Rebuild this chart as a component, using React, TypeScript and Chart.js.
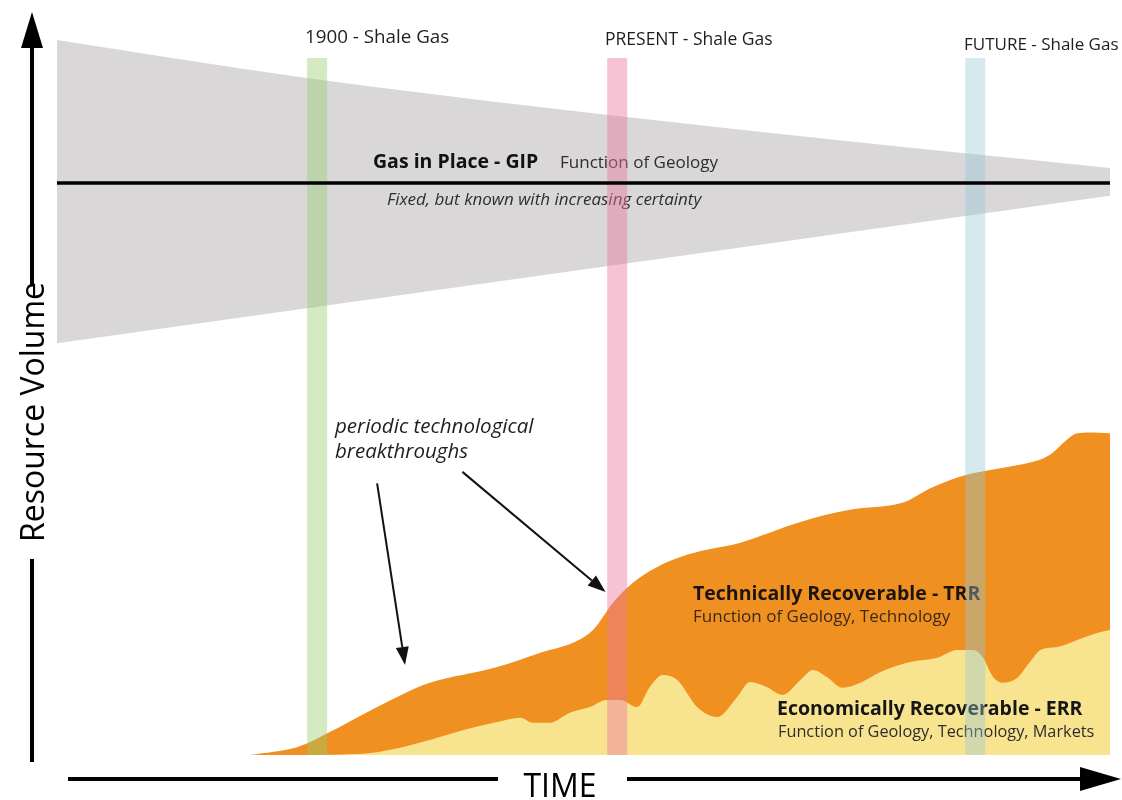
import React, { useEffect, useRef } from "react";
import { Chart, registerables } from "chart.js";

Chart.register(...registerables);

// ---- Data (time 0..100, resource volume 0..100, conceptual units) ----
const gipUpperX = [0, 23.7, 69.6, 100];
const gipUpperY = [100, 94.7, 86.7, 82.1];
const gipLowerX = [0, 100];
const gipLowerY = [57.6, 78.2];
const gipLineX = [0, 100];
const gipLineY = [80, 80];

const trrX = [18.3, 22.8, 25.9, 29.1, 32.3, 35.4, 41.8, 45.9, 49.0, 50.9, 52.8, 54.7, 57.0, 59.2, 61.7, 64.9, 70.6, 75.3, 80.1, 83.2, 86.4, 89.6, 92.7, 94.3, 95.9, 96.9, 100];
const trrY = [0, 1.1, 3.2, 5.7, 8.1, 10.1, 12.3, 14.3, 15.7, 17.5, 21.3, 24.1, 26.3, 27.7, 28.7, 29.7, 32.6, 34.3, 35.2, 37.5, 39.2, 40.1, 41.0, 42.0, 44.1, 45.0, 45.0];

const errX = [25.0, 30.4, 35.4, 38.6, 41.8, 44.0, 45.2, 46.8, 48.7, 50.6, 52.2, 53.5, 55.1, 56.3, 57.5, 58.9, 60.8, 62.7, 64.6, 65.8, 67.4, 68.9, 70.6, 71.8, 73.1, 74.6, 76.3, 78.2, 81.0, 83.6, 85.5, 87.0, 87.9, 88.9, 89.8, 91.2, 92.4, 93.4, 95.0, 96.9, 99.1, 100];
const errY = [0, 0.4, 2.1, 3.5, 4.6, 5.2, 4.5, 4.5, 5.9, 6.7, 7.7, 7.7, 6.7, 9.5, 11.2, 10.5, 6.7, 5.3, 8.1, 10.2, 9.5, 8.4, 10.5, 11.9, 10.9, 9.4, 10.1, 11.6, 13.0, 13.6, 14.7, 14.7, 13.7, 10.9, 10.1, 10.8, 13.0, 14.7, 15.1, 16.1, 17.2, 17.5];

const bandLabels = ["1900 - Shale Gas", "PRESENT - Shale Gas", "FUTURE - Shale Gas"];
const bandX = [24.7, 53.2, 87.2];
const bandTop = [97.5, 97.5, 97.5];
const bandColors = ["rgba(150,205,110,0.42)", "rgba(235,120,160,0.45)", "rgba(150,200,215,0.40)"];

// annotation arrows in data units
const arrowStartX = [30.4, 38.5];
const arrowStartY = [38.0, 39.6];
const arrowEndX = [33.05, 52.1];
const arrowEndY = [12.6, 22.8];

const pts = (xs: number[], ys: number[]) => xs.map((x, i) => ({ x, y: ys[i] }));

const FONT = '"Open Sans", "Noto Sans", sans-serif';

function txt(ctx: CanvasRenderingContext2D, s: string, x: number, y: number, font: string, color: string, align: CanvasTextAlign = "left") {
  ctx.font = font;
  ctx.fillStyle = color;
  ctx.textAlign = align;
  ctx.textBaseline = "alphabetic";
  ctx.fillText(s, x, y);
}

function drawLabels(chart: any) {
  const ctx: CanvasRenderingContext2D = chart.ctx;
  ctx.save();
  const bandTitleY = [43, 45, 50];
  const bandTitleX = [305, 605, 964];
  const bandTitleSize = [18.8, 17.5, 17];
  bandLabels.forEach((s, i) => txt(ctx, s, bandTitleX[i], bandTitleY[i], `${bandTitleSize[i]}px ${FONT}`, "#1e1e1e"));
  txt(ctx, "Gas in Place - GIP", 373, 168, `bold 19.5px ${FONT}`, "#111");
  txt(ctx, "Function of Geology", 560, 168, `17px ${FONT}`, "#2e2e2e");
  txt(ctx, "Fixed, but known with increasing certainty", 387, 205, `italic 17px ${FONT}`, "#2e2e2e");
  txt(ctx, "periodic technological", 335, 433, `italic 20.5px ${FONT}`, "#1e1e1e");
  txt(ctx, "breakthroughs", 335, 458, `italic 20.5px ${FONT}`, "#1e1e1e");
  txt(ctx, "Technically Recoverable - TRR", 693, 600, `bold 19.5px ${FONT}`, "#1c140e");
  txt(ctx, "Function of Geology, Technology", 693, 622, `17px ${FONT}`, "#3b2a1c");
  txt(ctx, "Economically Recoverable - ERR", 777, 715, `bold 19.5px ${FONT}`, "#161616");
  txt(ctx, "Function of Geology, Technology, Markets", 778, 737, `16.3px ${FONT}`, "#2e2e2e");
  ctx.restore();
}

function drawDecor(chart: any) {
  const ctx: CanvasRenderingContext2D = chart.ctx;
  const xs = chart.scales.x;
  const ys = chart.scales.y;
  ctx.save();
  ctx.strokeStyle = "#111";
  ctx.fillStyle = "#111";
  ctx.lineWidth = 2;
  for (let i = 0; i < arrowStartX.length; i++) {
    const x0 = xs.getPixelForValue(arrowStartX[i]);
    const y0 = ys.getPixelForValue(arrowStartY[i]);
    const x1 = xs.getPixelForValue(arrowEndX[i]);
    const y1 = ys.getPixelForValue(arrowEndY[i]);
    const a = Math.atan2(y1 - y0, x1 - x0);
    const hl = 18, hw = 6.5;
    const bx = x1 - hl * Math.cos(a), by = y1 - hl * Math.sin(a);
    ctx.beginPath();
    ctx.moveTo(x0, y0);
    ctx.lineTo(bx, by);
    ctx.stroke();
    ctx.beginPath();
    ctx.moveTo(x1, y1);
    ctx.lineTo(bx + hw * Math.sin(a), by - hw * Math.cos(a));
    ctx.lineTo(bx - hw * Math.sin(a), by + hw * Math.cos(a));
    ctx.closePath();
    ctx.fill();
  }
  // axes
  ctx.strokeStyle = "#000";
  ctx.fillStyle = "#000";
  ctx.lineWidth = 4;
  ctx.beginPath();
  ctx.moveTo(32, 46); ctx.lineTo(32, 285);
  ctx.moveTo(32, 559); ctx.lineTo(32, 762);
  ctx.moveTo(68, 779); ctx.lineTo(498, 779);
  ctx.moveTo(627, 779); ctx.lineTo(1084, 779);
  ctx.stroke();
  ctx.beginPath();
  ctx.moveTo(32, 12); ctx.lineTo(43, 48); ctx.lineTo(21, 48); ctx.closePath();
  ctx.fill();
  ctx.beginPath();
  ctx.moveTo(1121, 779); ctx.lineTo(1080, 767); ctx.lineTo(1080, 791); ctx.closePath();
  ctx.fill();
  txt(ctx, "TIME", 560, 797, `32px ${FONT}`, "#000", "center");
  ctx.translate(44, 412);
  ctx.rotate(-Math.PI / 2);
  txt(ctx, "Resource Volume", 0, 0, `32px ${FONT}`, "#000", "center");
  ctx.restore();
}

export default function App() {
  const ref = useRef<HTMLCanvasElement>(null);
  useEffect(() => {
    document.body.style.margin = "0";
    const bands = bandX.map((x, i) => ({
      label: bandLabels[i],
      data: [{ x, y: 0 }, { x, y: bandTop[i] }],
      borderColor: bandColors[i],
      borderWidth: 20,
      borderCapStyle: "butt",
      fill: false,
      order: 1,
      tension: 0,
    }));
    const datasets: any[] = [
      { label: "GIP line", data: pts(gipLineX, gipLineY), borderColor: "#000", borderWidth: 3.5, fill: false, order: 0, tension: 0 },
      ...bands,
      { label: "ERR", data: pts(errX, errY), borderColor: "#f8e48f", borderWidth: 0, backgroundColor: "#f8e48f", fill: "origin", order: 2, cubicInterpolationMode: "monotone" },
      { label: "TRR", data: pts(trrX, trrY), borderColor: "#ef9020", borderWidth: 0, backgroundColor: "#ef9020", fill: "origin", order: 3, tension: 0.35 },
      { label: "GIP upper", data: pts(gipUpperX, gipUpperY), borderWidth: 0, backgroundColor: "#dad7d9", fill: "+1", order: 5, cubicInterpolationMode: "monotone" },
      { label: "GIP lower", data: pts(gipLowerX, gipLowerY), borderWidth: 0, backgroundColor: "#dad7d9", fill: false, order: 5, tension: 0 },
    ];
    const errIdx = datasets.findIndex((d) => d.label === "ERR");
    const plugin = {
      id: "annotations",
      afterDatasetDraw(chart: any, args: any) {
        if (args.index === errIdx) drawLabels(chart);
      },
      afterDraw(chart: any) {
        drawDecor(chart);
      },
    };

    const chart = new Chart(ref.current!, {
      type: "line",
      data: { datasets },
      options: {
        responsive: false,
        animation: false,
        layout: { padding: { left: 57, right: 12, top: 40, bottom: 45 } },
        elements: { point: { radius: 0, hoverRadius: 0 } },
        scales: {
          x: { type: "linear", min: 0, max: 100, display: false },
          y: { type: "linear", min: 0, max: 100, display: false },
        },
        plugins: { legend: { display: false }, tooltip: { enabled: false } },
        events: [],
      },
      plugins: [plugin as any],
    } as any);
    return () => chart.destroy();
  }, []);
  return (
    <div style={{ position: "absolute", left: 0, top: 0, width: 1122, height: 800, background: "#fff" }}>
      <canvas ref={ref} width={1122} height={800} style={{ display: "block", width: 1122, height: 800 }} />
    </div>
  );
}
